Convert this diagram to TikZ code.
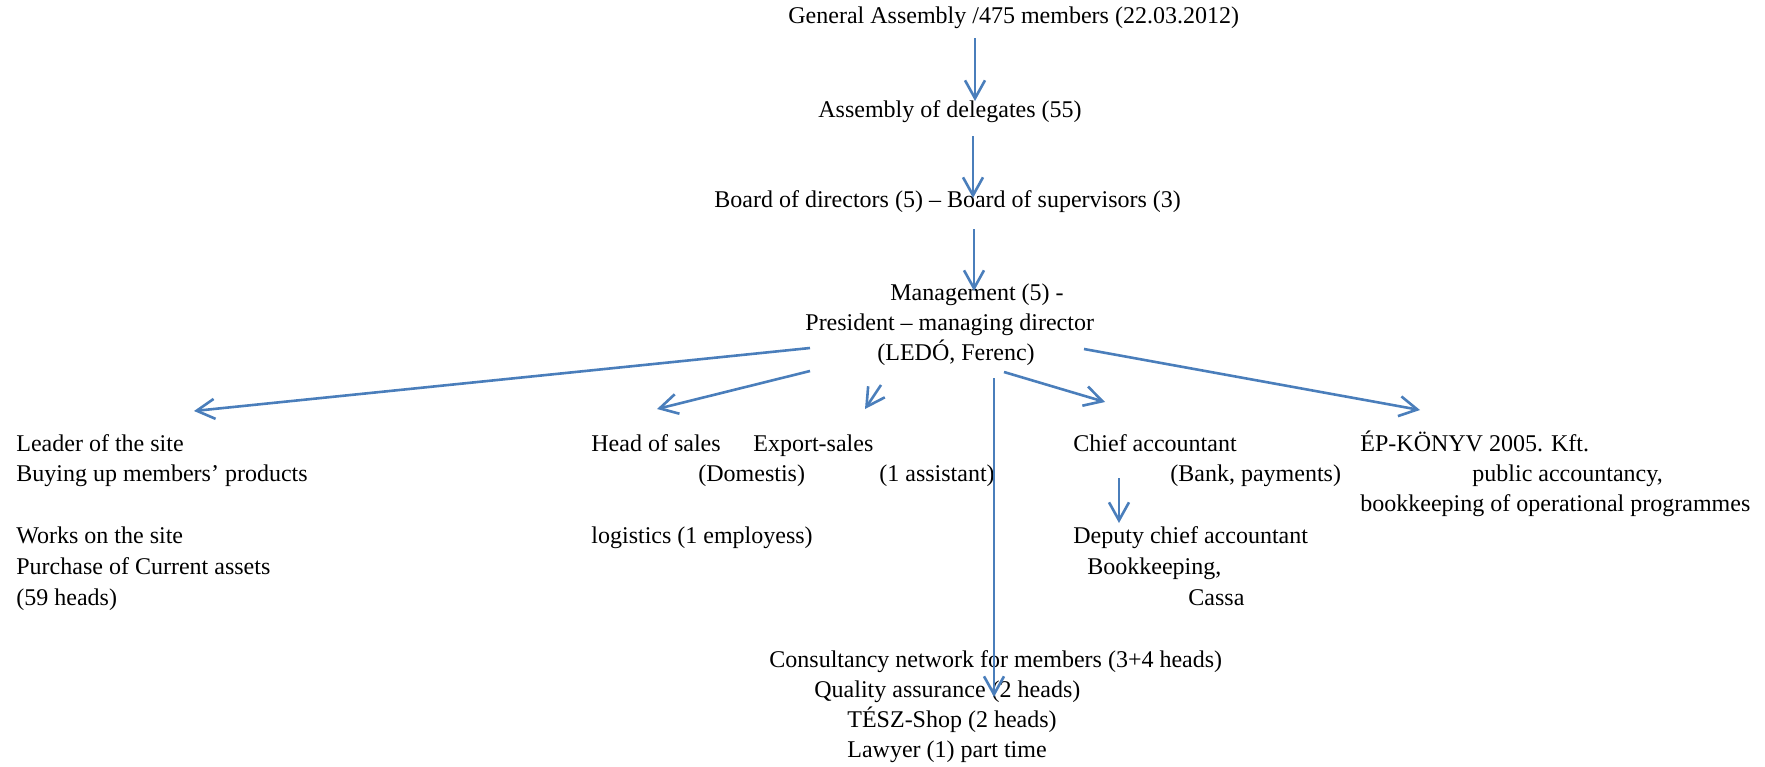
\documentclass[tikz,border=0pt]{standalone}
\usepackage{fontspec}
\setmainfont{Liberation Serif}
\usetikzlibrary{arrows.meta}
\definecolor{lineblue}{RGB}{74,126,187}

\begin{document}
\begin{tikzpicture}[x=0.5pt, y=-0.5pt,
  every node/.style={inner sep=0pt, font=\fontsize{12}{15.75}\selectfont},
  txt/.style={anchor=mid west},
  arr/.style={draw=lineblue, line width=1.3pt, -{Straight Barb[length=9pt, width=10pt, line width=1.3pt]}}]
  \useasboundingbox (0,0) rectangle (1765,766);

  \node[txt] (ga) at (788, 19) {General Assembly /475 members (22.03.2012)};
  \node[txt] (ad) at (818, 113) {Assembly of delegates (55)};
  \node[txt] (bd) at (714, 203) {Board of directors (5) -- Board of supervisors (3)};
  \node[txt] (mg1) at (890, 296) {Management (5) -};
  \node[txt] (mg2) at (805, 326) {President -- managing director};
  \node[txt] (mg3) at (877, 356) {(LEDÓ, Ferenc)};

  \node[txt] (ls1) at (16, 447) {Leader of the site};
  \node[txt] (ls2) at (16, 477) {Buying up members’ products};
  \node[txt] (ws1) at (16, 539) {Works on the site};
  \node[txt] (ws2) at (16, 570) {Purchase of Current assets};
  \node[txt] (ws3) at (16, 601) {(59 heads)};

  \node[txt] (hs1) at (591, 447) {Head of sales};
  \node[txt] (hs2) at (698, 477) {(Domestis)};
  \node[txt] (es1) at (753, 447) {Export-sales};
  \node[txt] (es2) at (879, 477) {(1 assistant)};
  \node[txt] (lg) at (591, 539) {logistics (1 employess)};

  \node[txt] (ca1) at (1073, 447) {Chief accountant};
  \node[txt] (ca2) at (1170, 477) {(Bank, payments)};
  \node[txt] (dc1) at (1073, 539) {Deputy chief accountant};
  \node[txt] (dc2) at (1087, 570) {Bookkeeping,};
  \node[txt] (dc3) at (1188, 601) {Cassa};

  \node[txt] (ep1) at (1360, 447) {ÉP-KÖNYV 2005. Kft.};
  \node[txt] (ep2) at (1472, 477) {public accountancy,};
  \node[txt] (ep3) at (1360, 507) {bookkeeping of operational programmes};

  \node[txt] (cn1) at (769, 663) {Consultancy network for members (3+4 heads)};
  \node[txt] (cn2) at (814, 693) {Quality assurance (2 heads)};
  \node[txt] (cn3) at (847, 723) {TÉSZ-Shop (2 heads)};
  \node[txt] (cn4) at (847, 753) {Lawyer (1) part time};

  \coordinate (a1) at (975, 38);   \coordinate (a2) at (975, 101);
  \coordinate (b1) at (973, 136);  \coordinate (b2) at (973, 198);
  \coordinate (c1) at (974, 229);  \coordinate (c2) at (974, 291);
  \coordinate (l1) at (810, 348);  \coordinate (l2) at (194, 411);
  \coordinate (h1) at (810, 371);  \coordinate (h2) at (657, 409);
  \coordinate (x1) at (881, 385);  \coordinate (x2) at (865, 409);
  \coordinate (v1) at (994, 378);  \coordinate (v2) at (994, 697);
  \coordinate (r1) at (1004, 372); \coordinate (r2) at (1105, 402);
  \coordinate (e1) at (1084, 349); \coordinate (e2) at (1420, 410);
  \coordinate (d1) at (1119, 478); \coordinate (d2) at (1119, 523);

  \draw[arr] (a1) -- (a2);
  \draw[arr] (b1) -- (b2);
  \draw[arr] (c1) -- (c2);
  \draw[arr] (l1) -- (l2);
  \draw[arr] (h1) -- (h2);
  \draw[arr] (x1) -- (x2);
  \draw[arr, line width=0.9pt] (v1) -- (v2);
  \draw[arr] (r1) -- (r2);
  \draw[arr] (e1) -- (e2);
  \draw[arr] (d1) -- (d2);
\end{tikzpicture}
\end{document}
